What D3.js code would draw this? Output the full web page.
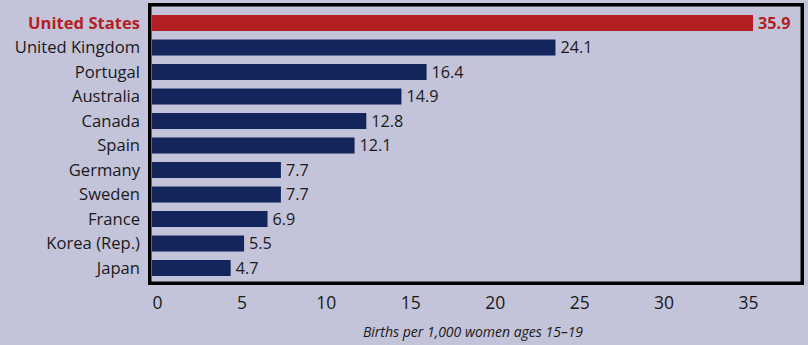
<!DOCTYPE html>
<html><head><meta charset="utf-8">
<script src="https://cdn.jsdelivr.net/npm/d3@7"></script>
<style>
html,body{margin:0;padding:0;background:#c3c3da;}
svg{display:block;}
</style></head>
<body>
<svg id="chart" width="808" height="345"></svg>
<script>
const countries = ["United States","United Kingdom","Portugal","Australia","Canada","Spain","Germany","Sweden","France","Korea (Rep.)","Japan"];
const births = [35.9,24.1,16.4,14.9,12.8,12.1,7.7,7.7,6.9,5.5,4.7];
const tickValues = [0,5,10,15,20,25,30,35];
const axisTitle = "Births per 1,000 women ages 15–19";
const highlight = "United States";

const svg = d3.select("#chart");
const bg = "#c3c3da", navy = "#13255b", red = "#b41f24", ink = "#1a1a1a";
const font = "'Open Sans', sans-serif";

const x = d3.scaleLinear().domain([0, 35.9]).range([152, 753]);
const xAxisScale = d3.scaleLinear().domain([0, 35]).range([157, 748]);
const y = d3.scaleBand().domain(countries).range([10.76, 280.26]).paddingInner(0.347).paddingOuter(0.1735);

svg.append("rect").attr("width",808).attr("height",345).attr("fill",bg);

const data = countries.map((c,i)=>({c, v: births[i]}));

svg.append("g").selectAll("rect").data(data).join("rect")
  .attr("x", x(0)).attr("y", d=>y(d.c))
  .attr("width", d=>x(d.v)-x(0)).attr("height", y.bandwidth())
  .attr("fill", d=>d.c===highlight?red:navy);

svg.append("g").selectAll("text").data(data).join("text")
  .attr("x", 140).attr("y", d=>y(d.c)+y.bandwidth()/2)
  .attr("dy","0.36em").attr("text-anchor","end")
  .attr("font-family",font).attr("font-size",16.6)
  .attr("font-weight", d=>d.c===highlight?700:400)
  .attr("fill", d=>d.c===highlight?red:ink)
  .text(d=>d.c);

svg.append("g").selectAll("text").data(data).join("text")
  .attr("x", d=>x(d.v)+5).attr("y", d=>y(d.c)+y.bandwidth()/2)
  .attr("dy","0.36em")
  .attr("font-family",font).attr("font-size",16.2)
  .attr("font-weight", d=>d.c===highlight?700:400)
  .attr("fill", d=>d.c===highlight?red:ink)
  .text(d=>d.v.toFixed(1));

// frame
svg.append("rect").attr("x",149.75).attr("y",4.75).attr("width",652.5).attr("height",278.5)
  .attr("fill","none").attr("stroke","#000").attr("stroke-width",3.5);

const axis = d3.axisBottom(xAxisScale).tickValues(tickValues).tickSize(0).tickPadding(0).tickFormat(d3.format("d"));
const ag = svg.append("g").attr("transform","translate(0,297)").call(axis);
ag.select(".domain").remove();
ag.selectAll("text").attr("font-family",font).attr("font-size",17.5).attr("fill",ink);

svg.append("text").attr("x",473).attr("y",337).attr("text-anchor","middle")
  .attr("font-family",font).attr("font-style","italic").attr("font-size",14).attr("fill",ink)
  .text(axisTitle);
</script>
</body></html>
